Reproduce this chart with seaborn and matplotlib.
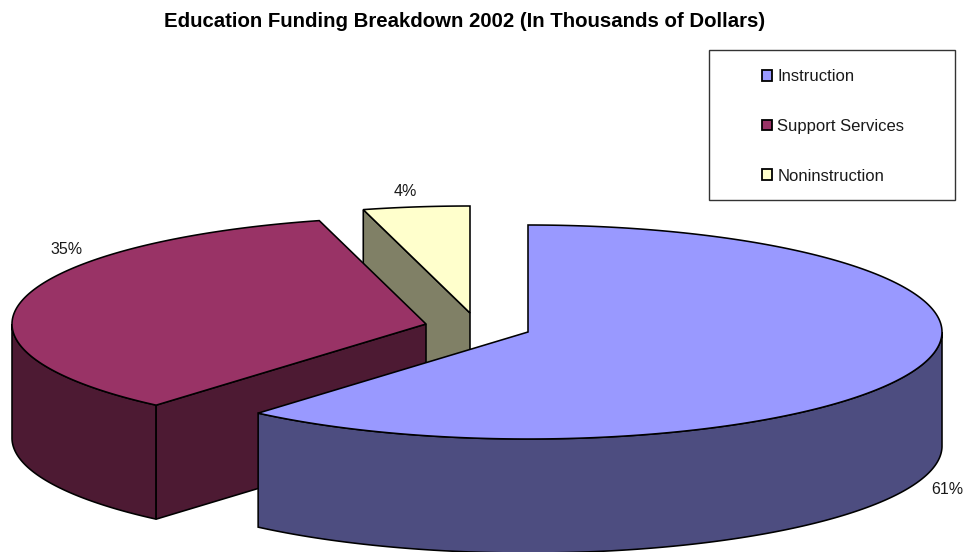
import numpy as np
import matplotlib
matplotlib.use("Agg")
import matplotlib.pyplot as plt
from matplotlib.patches import Patch, Rectangle
import seaborn as sns

categories = ["Instruction", "Support Services", "Noninstruction"]
shares = [61.3, 34.55, 4.15]
hex_colors = ["#9999FF", "#993366", "#FFFFCC"]
title = "Education Funding Breakdown 2002 (In Thousands of Dollars)"

sns.set_theme(style="white")
plt.rcParams["font.family"] = ["Liberation Sans", "DejaVu Sans"]

RX, RY, DEPTH = 414.0, 107.0, 114.0
CENTERS = [(528.0, 332.0), (426.0, 324.0), (470.0, 313.0)]
LABEL_POS = [(947, 489), (67, 249), (405, 192)]
LW = 1.15
palette = sns.color_palette(hex_colors)
dark = [tuple(c * 0.5 for c in col) for col in palette]

fig = plt.figure(figsize=(9.64, 5.52), dpi=100)
ax = fig.add_axes([0, 0, 1, 1])
ax.set_xlim(0, 964)
ax.set_ylim(552, 0)
ax.axis("off")


def arc(center, t0, t1):
    t = np.radians(np.linspace(t0, t1, 240))
    return center[0] + RX * np.sin(t), center[1] - RY * np.cos(t)


def poly(xs, ys, color, z):
    ax.fill(xs, ys, facecolor=color, edgecolor="black", lw=LW, zorder=z, joinstyle="miter")


edges = np.concatenate([[0], np.cumsum(shares)]) * 3.6

# Noninstruction (farthest back)
c = CENTERS[2]
a0, a1 = edges[2], edges[3]
x, y = arc(c, a0, a1)
poly([x[0], c[0], c[0], x[0]], [y[0], c[1], c[1] + DEPTH, y[0] + DEPTH], dark[2], 1)
poly(np.r_[c[0], x], np.r_[c[1], y], palette[2], 2)

# Support Services
c = CENTERS[1]
a0, a1 = edges[1], edges[2]
x, y = arc(c, a0, a1)
sx, sy = arc(c, a0, 270)
poly(np.r_[sx, sx[::-1]], np.r_[sy, sy[::-1] + DEPTH], dark[1], 3)
poly([sx[0], c[0], c[0], sx[0]], [sy[0], c[1], c[1] + DEPTH, sy[0] + DEPTH], dark[1], 3)
poly(np.r_[c[0], x], np.r_[c[1], y], palette[1], 4)

# Instruction (front)
c = CENTERS[0]
a0, a1 = edges[0], edges[1]
x, y = arc(c, a0, a1)
sx, sy = arc(c, 90, a1)
poly(np.r_[sx, sx[::-1]], np.r_[sy, sy[::-1] + DEPTH], dark[0], 5)
poly(np.r_[c[0], x], np.r_[c[1], y], palette[0], 6)

for share, (lx, ly) in zip(shares, LABEL_POS):
    ax.text(lx, ly, f"{share:.0f}%", ha="center", va="center", fontsize=11.5, color="#1a1a1a", zorder=8)

ax.text(464.5, 21.5, title, ha="center", va="center", fontsize=14.7, fontweight="bold", color="black")

ax.add_patch(Rectangle((709, 50), 246, 150, facecolor="white", edgecolor="#333333", lw=1.0, zorder=9))
handles = [Patch(facecolor=col, edgecolor="black", lw=1.3, label=name)
           for col, name in zip(palette, categories)]
leg = ax.legend(handles=handles, loc="upper left", bbox_to_anchor=(762, 69), bbox_transform=ax.transData,
                frameon=False, fontsize=12, labelspacing=2.09, handlelength=0.62, handleheight=0.62,
                handletextpad=0.3, borderpad=0, borderaxespad=0, labelcolor="#1a1a1a")
leg.set_zorder(10)

fig.savefig("out.png", dpi=100)
